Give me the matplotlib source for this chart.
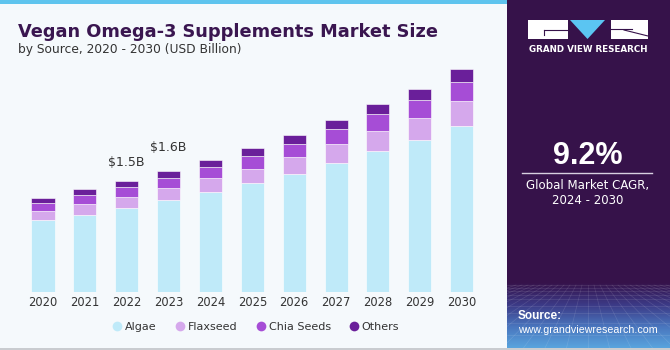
import matplotlib
matplotlib.use("Agg")
import matplotlib.pyplot as plt
import numpy as np
from matplotlib.patches import Rectangle, Polygon
from matplotlib.lines import Line2D
from matplotlib.colors import LinearSegmentedColormap

# ---- data (USD Billion) ----
years = ["2020", "2021", "2022", "2023", "2024", "2025", "2026", "2027", "2028", "2029", "2030"]
algae = [0.96, 1.04, 1.13, 1.23, 1.34, 1.46, 1.59, 1.74, 1.90, 2.05, 2.24]
flaxseed = [0.13, 0.14, 0.15, 0.17, 0.19, 0.20, 0.23, 0.25, 0.27, 0.30, 0.33]
chia_seeds = [0.11, 0.12, 0.13, 0.14, 0.15, 0.17, 0.18, 0.20, 0.23, 0.24, 0.26]
others = [0.07, 0.09, 0.09, 0.09, 0.10, 0.11, 0.12, 0.13, 0.14, 0.15, 0.17]
series_names = ["Algae", "Flaxseed", "Chia Seeds", "Others"]
series_colors = ["#bfeaf9", "#d5a8ec", "#a64dd6", "#6a1f9a"]
value_labels = {"2022": "$1.5B", "2023": "$1.6B"}
cagr_text = "9.2%"

W, H = 670, 350
BG = "#f5f9fc"
PANEL = "#36124a"
TITLE_C = "#3a1650"
TEXT_C = "#333333"

fig = plt.figure(figsize=(W / 100, H / 100), dpi=100)
fig.patch.set_facecolor(BG)

def fx(px):
    return px / W

def fy(py):
    return 1 - py / H

# top stripe and bottom line
fig.add_artist(Rectangle((0, fy(4)), fx(507), 4 / H, transform=fig.transFigure,
                         facecolor="#5ec4ee", edgecolor="none"))
fig.add_artist(Rectangle((0, 0), 1, 2 / H, transform=fig.transFigure,
                         facecolor="#c9ccd0", edgecolor="none"))

# ---- main chart ----
left_px, right_px, base_px, top_px = 11.6, 493.1, 291.5, 60
ax = fig.add_axes([fx(left_px), fy(base_px), (right_px - left_px) / W, (base_px - top_px) / H])
ax.set_facecolor("none")
x = np.arange(len(years))
bottom = np.zeros(len(years))
for vals, name, col in zip([algae, flaxseed, chia_seeds, others], series_names, series_colors):
    ax.bar(x, vals, width=0.55, bottom=bottom, color=col, edgecolor="#ffffff",
           linewidth=0.4, label=name)
    bottom = bottom + np.array(vals)

ax.set_xlim(-0.75, len(years) - 0.25)
ax.set_ylim(0, (base_px - top_px) / 74)
ax.set_xticks(x)
ax.set_xticklabels(years, fontsize=8.3, color=TEXT_C)
ax.tick_params(axis="x", length=0, pad=3)
ax.set_yticks([])
for s in ax.spines.values():
    s.set_visible(False)

offsets = {"2022": 8.5, "2023": 12.5}
for yr, lab in value_labels.items():
    i = years.index(yr)
    ax.annotate(lab, (x[i], bottom[i]), xytext=(0, offsets[yr]), textcoords="offset points",
                ha="center", va="bottom", fontsize=9, color=TEXT_C)

# legend
handles = [Line2D([], [], marker="o", linestyle="none", markersize=7, markerfacecolor=c,
                  markeredgecolor="none") for c in series_colors]
fig.legend(handles, series_names, loc="center", bbox_to_anchor=(fx(255), fy(327)), ncol=4,
           frameon=False, fontsize=8, handletextpad=0.1, columnspacing=1.5,
           labelcolor=TEXT_C, handlelength=1.2)

# titles
fig.text(fx(18), fy(37), "Vegan Omega-3 Supplements Market Size", fontsize=12.8,
         fontweight="heavy", color=TITLE_C, ha="left", va="baseline")
fig.text(fx(18), fy(53.5), "by Source, 2020 - 2030 (USD Billion)", fontsize=8.8,
         color=TEXT_C, ha="left", va="baseline")

# ---- right panel ----
pax = fig.add_axes([fx(507), 0, 1 - fx(507), 1])
pax.axis("off")
pax.add_patch(Rectangle((507, 0), 163, 350, facecolor=PANEL, edgecolor="none"))
# gradient at bottom
grad = np.linspace(0, 1, 100)[:, None]
cmap = LinearSegmentedColormap.from_list("g", [PANEL, "#3c3a86", "#4a77bf", "#5aa8e0"])
pax.imshow(grad, extent=(507, 670, 350, 282), aspect="auto", cmap=cmap, zorder=1)
# faint perspective grid
for k in range(-12, 20):
    x0 = 588 + k * 6
    x1 = 588 + k * 22
    pax.plot([x0, x1], [285, 350], color="white", alpha=0.12, lw=0.5, zorder=2)
yy = 285
step = 2.5
while yy < 350:
    pax.plot([507, 670], [yy, yy], color="white", alpha=0.12, lw=0.5, zorder=2)
    yy += step
    step *= 1.25
pax.set_xlim(507, 670)
pax.set_ylim(350, 0)

# logo
pax.add_patch(Rectangle((528, 20), 40, 19, facecolor="white", edgecolor="none", zorder=3))
pax.plot([544, 568], [30, 30], color=PANEL, lw=0.8, zorder=4)
pax.plot([544, 544], [30, 35], color=PANEL, lw=0.8, zorder=4)
pax.add_patch(Polygon([[570, 20], [605, 20], [587.5, 39]], closed=True,
                      facecolor="#5bc5f2", edgecolor="none", zorder=3))
pax.add_patch(Rectangle((611, 20), 37, 19, facecolor="white", edgecolor="none", zorder=3))
pax.plot([624, 648], [30, 36], color=PANEL, lw=0.8, zorder=4)
pax.plot([611, 632], [29, 29], color=PANEL, lw=0.8, zorder=4)
pax.text(588, 50, "GRAND VIEW RESEARCH", color="white", fontsize=6.3, fontweight="bold",
         ha="center", va="center", zorder=4)

pax.text(588, 156, cagr_text, color="white", fontsize=22, fontweight="bold",
         family="Liberation Sans", ha="center", va="center", zorder=4)
pax.plot([522, 652], [173, 173], color="#d8d0e0", lw=1, zorder=4)
pax.text(588, 186, "Global Market CAGR,", color="white", fontsize=8.5, ha="center",
         va="center", zorder=4)
pax.text(588, 201, "2024 - 2030", color="white", fontsize=8.5, ha="center",
         va="center", zorder=4)
pax.text(518, 316, "Source:", color="white", fontsize=8.5, fontweight="bold",
         family="Liberation Sans", ha="left", va="center", zorder=4)
pax.text(518, 330, "www.grandviewresearch.com", color="white", fontsize=7.7,
         family="Liberation Sans", ha="left", va="center", zorder=4)

fig.savefig("out.png", dpi=100, facecolor=fig.get_facecolor())
